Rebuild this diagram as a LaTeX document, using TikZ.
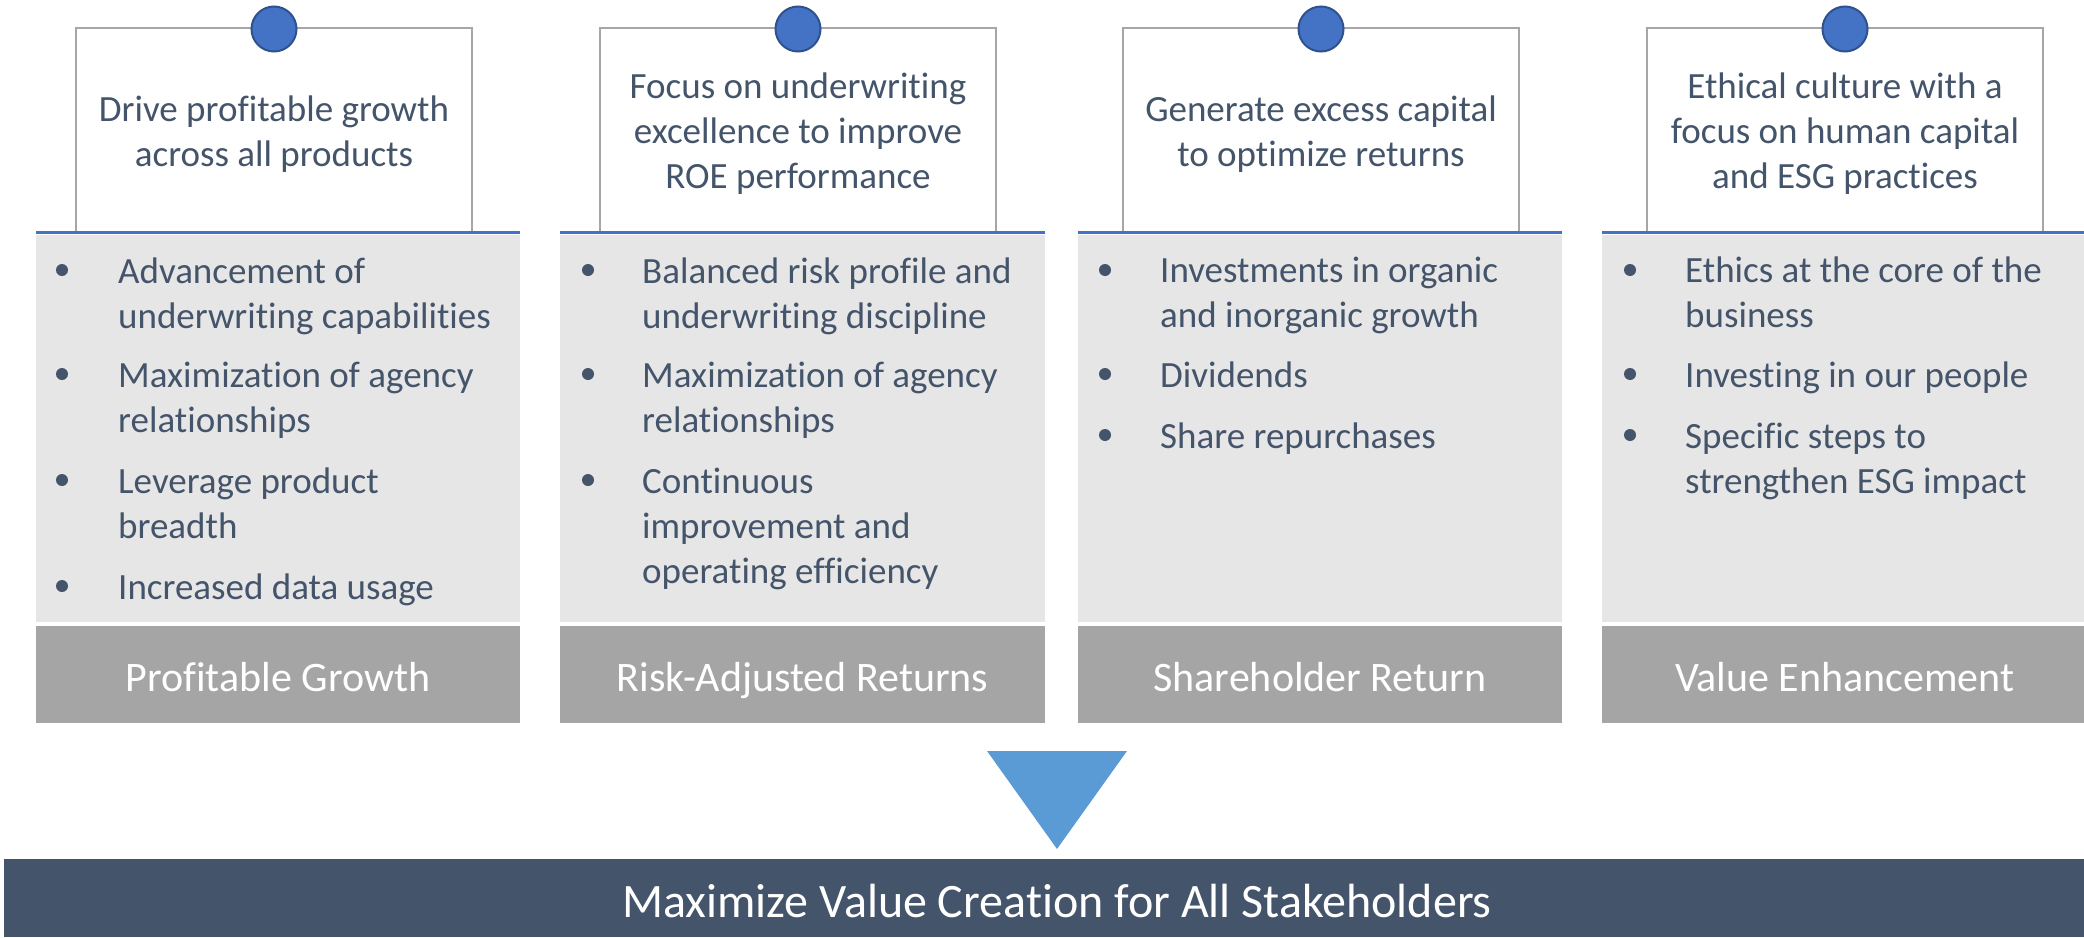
\documentclass[tikz,border=0pt]{standalone}
\usepackage{fontspec}
\setmainfont{Carlito}[Ligatures=CommonOff]
\definecolor{txt}{HTML}{44546A}
\definecolor{boxgray}{HTML}{A6A6A6}
\definecolor{panelgray}{HTML}{E7E6E6}
\definecolor{labelgray}{HTML}{A5A5A5}
\definecolor{lineblue}{HTML}{4472C4}
\definecolor{pinedge}{HTML}{2F528F}
\definecolor{triblue}{HTML}{5B9BD5}
\tikzset{
  topbox/.style={draw=boxgray, line width=2pt},
  pin/.style={circle, fill=lineblue, draw=pinedge, line width=2pt, minimum size=45pt, inner sep=0pt},
  head/.style={text=txt, font=\fontsize{37}{45}\selectfont, align=center, anchor=base, inner sep=0pt},
  item/.style={text=txt, font=\fontsize{37}{45}\selectfont, align=left, anchor=base west, inner sep=0pt},
  lbl/.style={text=white, font=\fontsize{42}{50}\selectfont, anchor=base, inner sep=0pt},
  dot/.style={circle, fill=txt, minimum size=12pt, inner sep=0pt},
  bar/.style={text=white, font=\fontsize{48}{56}\selectfont, anchor=base, inner sep=0pt},
  sepline/.style={draw=lineblue, line width=3pt},
}
\begin{document}
\begin{tikzpicture}[x=1pt,y=-1pt]
\useasboundingbox (0,0) rectangle (2084,937);
% (multi-line nodes: the base anchor is the baseline of the last line)

% ---------- column 1 ----------
\fill[white] (76,28) rectangle (472,232);
\draw[topbox] (76,232) -- (76,28) -- (472,28) -- (472,232);
\node[pin] (pin1) at (274,29) {};
\node[head] (h1) at (274,166) {Drive profitable growth\\across all products};
\fill[panelgray] (36,235) rectangle (520,622);
\draw[sepline] (36,232) -- (520,232);
\fill[labelgray] (36,626) rectangle (520,723);
\node[lbl] (l1) at (278,691) {Profitable Growth};
\node[dot] (d1a) at (62,270) {};
\node[item] (i1a) at (118,328) {Advancement of\\underwriting capabilities};
\node[dot] (d1b) at (62,374) {};
\node[item] (i1b) at (118,432) {Maximization of agency\\relationships};
\node[dot] (d1c) at (62,480) {};
\node[item] (i1c) at (118,538) {Leverage product\\breadth};
\node[dot] (d1d) at (62,586) {};
\node[item] (i1d) at (118,599) {Increased data usage};

% ---------- column 2 ----------
\fill[white] (600,28) rectangle (996,232);
\draw[topbox] (600,232) -- (600,28) -- (996,28) -- (996,232);
\node[pin] (pin2) at (798,29) {};
\node[head] (h2) at (798,188) {Focus on underwriting\\excellence to improve\\ROE performance};
\fill[panelgray] (560,235) rectangle (1045,622);
\draw[sepline] (560,232) -- (1045,232);
\fill[labelgray] (560,626) rectangle (1045,723);
\node[lbl] (l2) at (802.5,691) {Risk-Adjusted Returns};
\node[dot] (d2a) at (588,270) {};
\node[item] (i2a) at (642,328) {Balanced risk profile and\\underwriting discipline};
\node[dot] (d2b) at (588,374) {};
\node[item] (i2b) at (642,432) {Maximization of agency\\relationships};
\node[dot] (d2c) at (588,480) {};
\node[item] (i2c) at (642,583) {Continuous\\improvement and\\operating efficiency};

% ---------- column 3 ----------
\fill[white] (1123,28) rectangle (1519,232);
\draw[topbox] (1123,232) -- (1123,28) -- (1519,28) -- (1519,232);
\node[pin] (pin3) at (1321,29) {};
\node[head] (h3) at (1321,166) {Generate excess capital\\to optimize returns};
\fill[panelgray] (1078,235) rectangle (1562,622);
\draw[sepline] (1078,232) -- (1562,232);
\fill[labelgray] (1078,626) rectangle (1562,723);
\node[lbl] (l3) at (1320,691) {Shareholder Return};
\node[dot] (d3a) at (1105,270) {};
\node[item] (i3a) at (1160,327) {Investments in organic\\and inorganic growth};
\node[dot] (d3b) at (1105,374) {};
\node[item] (i3b) at (1160,387) {Dividends};
\node[dot] (d3c) at (1105,435) {};
\node[item] (i3c) at (1160,448) {Share repurchases};

% ---------- column 4 ----------
\fill[white] (1647,28) rectangle (2043,232);
\draw[topbox] (1647,232) -- (1647,28) -- (2043,28) -- (2043,232);
\node[pin] (pin4) at (1845,29) {};
\node[head] (h4) at (1845,188) {Ethical culture with a\\focus on human capital\\and ESG practices};
\fill[panelgray] (1602,235) rectangle (2084,622);
\draw[sepline] (1602,232) -- (2084,232);
\fill[labelgray] (1602,626) rectangle (2084,723);
\node[lbl] (l4) at (1845,691) {Value Enhancement};
\node[dot] (d4a) at (1630,270) {};
\node[item] (i4a) at (1685,327) {Ethics at the core of the\\business};
\node[dot] (d4b) at (1630,374) {};
\node[item] (i4b) at (1685,387) {Investing in our people};
\node[dot] (d4c) at (1630,435) {};
\node[item] (i4c) at (1685,493) {Specific steps to\\strengthen ESG impact};

% ---------- arrow and bottom bar ----------
\fill[triblue] (987,751) -- (1127,751) -- (1057,849) -- cycle;
\fill[txt] (4,859) rectangle (2084,937);
\node[bar] (goal) at (1057,917) {Maximize Value Creation for All Stakeholders};
\end{tikzpicture}
\end{document}
